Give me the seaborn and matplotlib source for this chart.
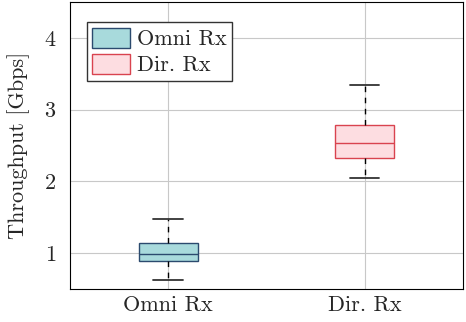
import matplotlib
matplotlib.use("Agg")
import matplotlib.pyplot as plt
from matplotlib.patches import Patch
import seaborn as sns
import pandas as pd

# Five-number summaries (min, Q1, median, Q3, max) of measured throughput
categories = ["Omni Rx", "Dir. Rx"]
omni_rx = [0.62, 0.89, 0.99, 1.14, 1.47]
dir_rx = [2.05, 2.33, 2.54, 2.79, 3.35]

fill_colors = ["#a8dadc", "#fddde1"]
edge_colors = ["#2b4a6e", "#d9434f"]

sns.set_theme(style="whitegrid")
plt.rcParams["font.family"] = ["cmr10", "DejaVu Serif"]
plt.rcParams["axes.formatter.use_mathtext"] = True

df = pd.DataFrame({
    "setup": [categories[0]] * len(omni_rx) + [categories[1]] * len(dir_rx),
    "throughput": omni_rx + dir_rx,
})

fig = plt.figure(figsize=(4.66, 3.22), dpi=100)
ax = fig.add_axes([0.150, 0.1025, 0.8436, 0.8913])

for cat, fc, ec in zip(categories, fill_colors, edge_colors):
    sns.boxplot(
        data=df[df["setup"] == cat], x="setup", y="throughput",
        order=categories, ax=ax, width=0.3, whis=float("inf"),
        color=fc, linecolor=ec, linewidth=1.0, saturation=1,
        whiskerprops=dict(color="black", linestyle=(0, (4, 4)), linewidth=1.0),
        capprops=dict(color="#333333", linewidth=1.3),
        medianprops=dict(color=ec, linewidth=1.0),
    )

FS = 16
ax.set_xlim(-0.5, 1.5)
ax.set_ylim(0.5, 4.5)
ax.set_yticks([1, 2, 3, 4])
ax.set_xlabel("")
ax.set_ylabel("Throughput [Gbps]", fontsize=FS, labelpad=10)
ax.tick_params(axis="y", labelsize=FS, length=0, pad=10)
ax.tick_params(axis="x", labelsize=FS, length=0, pad=5)

ax.grid(True, color="#c8c8c8", linewidth=0.8)
ax.set_axisbelow(True)
for s in ax.spines.values():
    s.set_visible(True)
    s.set_color("black")
    s.set_linewidth(0.8)

handles = [Patch(facecolor=fc, edgecolor=ec, linewidth=1.0, label=c)
           for c, fc, ec in zip(categories, fill_colors, edge_colors)]
leg = ax.legend(handles=handles, loc="upper left", bbox_to_anchor=(0.043, 0.93),
                fontsize=FS, frameon=True, fancybox=False, framealpha=1,
                handlelength=1.7, handleheight=1.0, handletextpad=0.3,
                borderpad=0.25, labelspacing=0.2, borderaxespad=0)
leg.get_frame().set_edgecolor("#333333")
leg.get_frame().set_linewidth(1.0)

fig.savefig("out.png", dpi=100)
